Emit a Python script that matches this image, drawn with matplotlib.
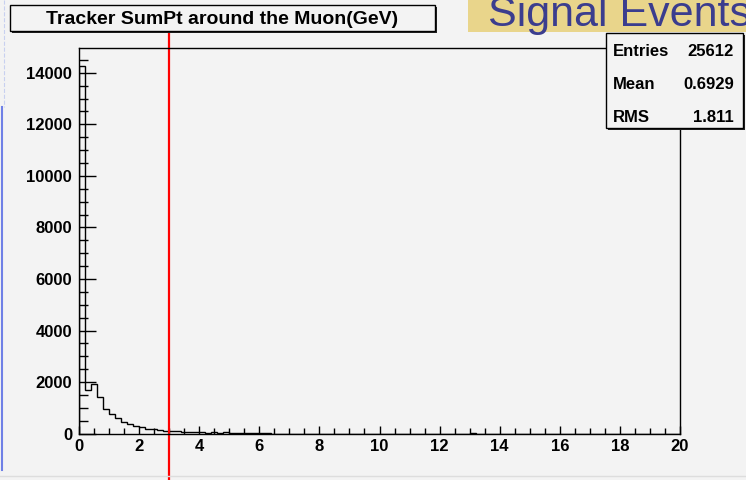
import numpy as np
import matplotlib
matplotlib.use("Agg")
import matplotlib.pyplot as plt
from matplotlib.patches import Rectangle
from matplotlib.lines import Line2D
from matplotlib.ticker import MultipleLocator

plt.rcParams['font.family'] = ['Liberation Sans', 'DejaVu Sans']

# histogram: 100 bins of 0.2 GeV between 0 and 20
bin_edges = np.linspace(0, 20, 101)
counts = [14250, 1680, 1940, 1420, 975, 780, 600, 440, 364, 290,
          250, 195, 170, 130, 115, 100, 90, 70, 60, 55,
          50, 45, 60, 35, 55, 25, 20, 18, 15, 12,
          10, 8, 7, 6, 5, 5, 4, 4, 3, 3,
          2, 2, 2, 1, 1, 1, 1, 0, 0, 0,
          0, 0, 0, 0, 0, 0, 0, 0, 0, 0,
          0, 0, 0, 0, 0, 8, 0, 0, 0, 0,
          0, 0, 0, 0, 0, 0, 0, 0, 0, 0,
          0, 0, 0, 0, 0, 0, 0, 0, 0, 0,
          0, 6, 0, 0, 0, 0, 0, 0, 0, 0]
cut_value = 3.0

title = "Tracker SumPt around the Muon(GeV)"
stat_names = ["Entries", "Mean", "RMS"]
stat_values = ["25612", "0.6929", "1.811"]
banner = "Signal Events"

W, H = 746, 480
bg = '#f3f3f3'

def fx(px):
    return px / W

def fy(py):
    return 1 - py / H

fig = plt.figure(figsize=(W / 100, H / 100), dpi=100, facecolor=bg)

# frame in pixels: left 79, right 680, top 48, bottom 433.7
ax = fig.add_axes([fx(79), fy(433.7), fx(680) - fx(79), fy(48) - fy(433.7)])
ax.set_facecolor(bg)
ax.stairs(counts, bin_edges, color='black', lw=1.0)
ax.set_xlim(0, 20)
ax.set_ylim(0, 14960)

for s in ax.spines.values():
    s.set_color('black')
    s.set_linewidth(1.0)

ax.xaxis.set_major_locator(MultipleLocator(2))
ax.xaxis.set_minor_locator(MultipleLocator(0.5))
ax.yaxis.set_major_locator(MultipleLocator(2000))
ax.yaxis.set_minor_locator(MultipleLocator(500))
ax.tick_params(axis='x', which='major', direction='in', length=5.8, width=1, pad=3.5,
               labelsize=12, top=False)
ax.tick_params(axis='x', which='minor', direction='in', length=4.0, width=1, top=False)
ax.tick_params(axis='y', which='major', direction='in', length=12.5, width=1, pad=5,
               labelsize=12, right=False)
ax.tick_params(axis='y', which='minor', direction='in', length=6.5, width=1, right=False)
for lab in ax.get_xticklabels() + ax.get_yticklabels():
    lab.set_fontweight('bold')

# red cut line, running from below the title box to the bottom edge
ymin_ax = (433.7 - 480) / (433.7 - 48)
ymax_ax = (433.7 - 33) / (433.7 - 48)
ax.axvline(cut_value, ymin=ymin_ax, ymax=ymax_ax, color='#ff0000', lw=1.6, clip_on=False)

def box(x0, y0, x1, y1, face, shadow=2, z=5):
    if shadow:
        fig.add_artist(Rectangle((fx(x0 + shadow), fy(y1 + shadow)), fx(x1 - x0), fy(y0) - fy(y1),
                                 transform=fig.transFigure, facecolor='#222222',
                                 edgecolor='none', zorder=z))
    fig.add_artist(Rectangle((fx(x0), fy(y1)), fx(x1 - x0), fy(y0) - fy(y1),
                             transform=fig.transFigure, facecolor=face,
                             edgecolor='black', lw=1.0, zorder=z + 0.1))

# title box
box(10, 5, 435, 31, bg)
fig.text(fx(222), fy(19), title, ha='center', va='center', fontsize=14,
         fontweight='bold', zorder=6)

# stats box
box(606, 33, 743, 128, bg)
for i, (name, val) in enumerate(zip(stat_names, stat_values)):
    yy = 52 + i * 32.5
    fig.text(fx(613), fy(yy), name, ha='left', va='center', fontsize=12,
             fontweight='bold', zorder=6)
    fig.text(fx(734), fy(yy), val, ha='right', va='center', fontsize=12,
             fontweight='bold', zorder=6)

# banner from the slide (cut by the image edge, as in the screenshot)
fig.add_artist(Rectangle((fx(468), fy(32)), fx(W - 468), fy(0) - fy(32),
                         transform=fig.transFigure, facecolor='#e9d58b',
                         edgecolor='none', zorder=7))
fig.text(fx(488), fy(26), banner, ha='left', va='baseline', fontsize=31,
         color='#3b3d8e', zorder=8)

# slide remnants at the left and bottom edges
fig.add_artist(Line2D([fx(2), fx(2)], [fy(107), fy(470)], transform=fig.transFigure,
                      color='#6f80e6', lw=1.5, zorder=4))
fig.add_artist(Line2D([fx(4), fx(4)], [fy(0), fy(107)], transform=fig.transFigure,
                      color='#c8d0f0', lw=0.8, ls='--', zorder=4))
fig.add_artist(Line2D([fx(0), fx(W)], [fy(476), fy(476)], transform=fig.transFigure,
                      color='#dddddd', lw=1.0, zorder=4))

fig.savefig('out.png', dpi=100, facecolor=bg)
